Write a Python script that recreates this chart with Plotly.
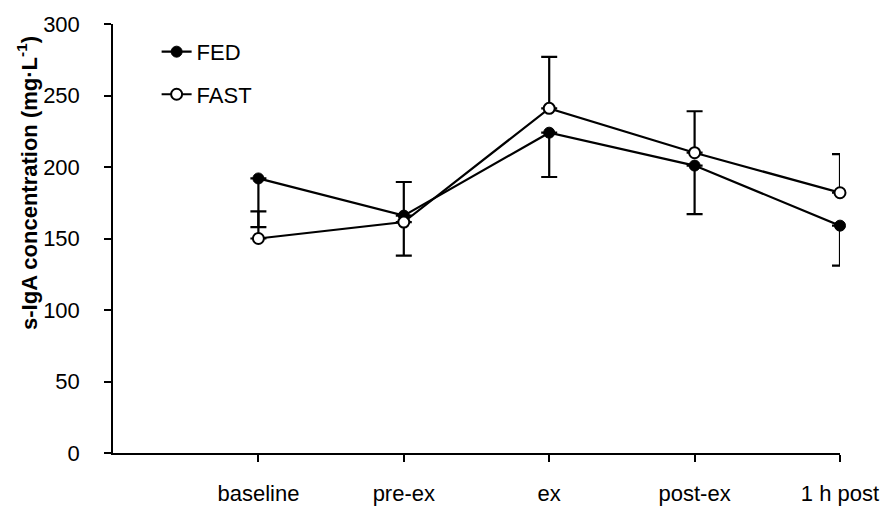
import plotly.graph_objects as go

categories = ["baseline", "pre-ex", "ex", "post-ex", "1 h post"]
positions = [1, 2, 3, 4, 5]

fed = [192, 166, 224, 201, 159]
fed_err_minus = [34, 28, 31, 34, 28]

fast = [150, 161.5, 241, 210, 182]
fast_err_plus = [19, 28, 36, 29, 27]

FONT = "Liberation Sans, Arial, sans-serif"

fig = go.Figure()
fig.add_trace( go.Scatter( x=positions, y=fed,
                           mode="lines+markers",
                           name="FED",
                           legendgroup="fed",
                           cliponaxis=False,
                           line={ "color" : "black", "width" : 2.2 },
                           marker={ "color" : "black", "size" : 11,
                                    "line" : { "color" : "black", "width" : 1 } },
                           error_y=dict( type="data", symmetric=False,
                                         array=[0] * len( fed ), arrayminus=fed_err_minus,
                                         color="black", thickness=2.2, width=8 ) ) )
fig.add_trace( go.Scatter( x=positions, y=fast,
                           mode="lines+markers",
                           name="FAST",
                           legendgroup="fast",
                           cliponaxis=False,
                           line={ "color" : "black", "width" : 2.2 },
                           marker={ "color" : "white", "size" : 11,
                                    "line" : { "color" : "black", "width" : 2 } },
                           error_y=dict( type="data", symmetric=False,
                                         array=fast_err_plus, arrayminus=[0] * len( fast ),
                                         color="black", thickness=2.2, width=8 ) ) )

fig.update_xaxes( range=[0, 5], tickvals=positions, ticktext=categories,
                  automargin=False,
                  showline=True, linecolor="black", linewidth=1.5,
                  ticks="outside", ticklen=7, tickcolor="black", tickwidth=1.5,
                  ticklabelstandoff=13, showgrid=False, zeroline=False,
                  tickfont=dict( size=22, color="black", family=FONT ) )
fig.update_yaxes( range=[0, 300], dtick=50,
                  automargin=False,
                  showline=True, linecolor="black", linewidth=1.5,
                  ticks="outside", ticklen=7, tickcolor="black", tickwidth=1.5,
                  ticklabelstandoff=20, showgrid=False, zeroline=False,
                  tickfont=dict( size=22, color="black", family=FONT ) )

# axis title sits above the centre of the axis in the original, so place it by hand
fig.add_annotation( text="<b>s-IgA concentration (mg·L<sup>-1</sup>)</b>",
                    xref="paper", yref="paper", x=-0.118, y=0.63,
                    xanchor="center", yanchor="middle", textangle=-90,
                    showarrow=False,
                    font=dict( size=22, color="black", family=FONT ) )

# page body has an 8px margin, so the figure is a bit smaller than the window
fig.update_layout( template="simple_white",
                   width=880, height=498,
                   plot_bgcolor="white",
                   paper_bgcolor="white",
                   margin={ "r" : 48, "t" : 16, "l" : 105, "b" : 53 },
                   showlegend=True,
                   legend=dict( yanchor="top", y=0.984,
                                xanchor="left", x=0.06,
                                traceorder="grouped", tracegroupgap=11,
                                bgcolor="rgba(0,0,0,0)",
                                font=dict( size=22, color="black", family=FONT ) ) )

fig.write_html( "out.html" )
